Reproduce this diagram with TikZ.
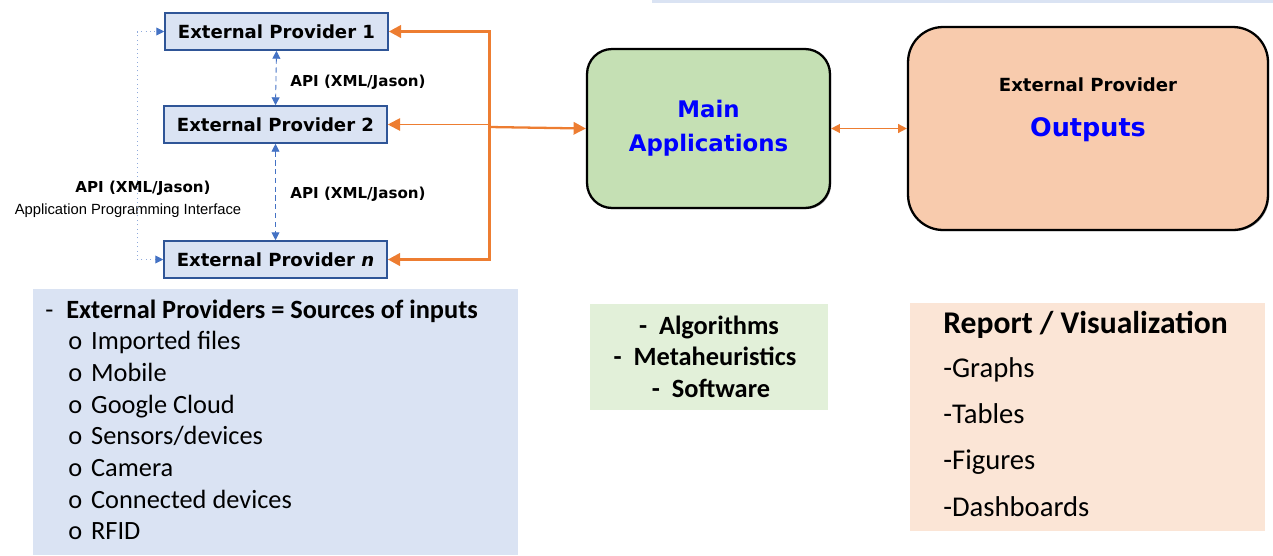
\documentclass[tikz,border=0pt]{standalone}
\usepackage{fontspec}
\setmainfont{Carlito}
\newfontfamily\dvs{DejaVu Sans}
\newfontfamily\lib{Liberation Sans}
\usetikzlibrary{arrows.meta,shadows}
\definecolor{provfill}{HTML}{DAE3F3}
\definecolor{provdraw}{HTML}{2F5597}
\definecolor{apiblue}{HTML}{4472C4}
\definecolor{apilight}{HTML}{8FAADC}
\definecolor{feedorange}{HTML}{ED7D31}
\definecolor{mainfill}{HTML}{C5E0B4}
\definecolor{outfill}{HTML}{F8CBAD}
\definecolor{algofill}{HTML}{E2F0D9}
\definecolor{reportfill}{HTML}{FBE5D6}

\begin{document}
\begin{tikzpicture}[x=0.02cm, y=-0.02cm,
    provider/.style={draw=provdraw, fill=provfill, line width=0.9pt, minimum width=4.46cm,
        minimum height=0.74cm, inner sep=0pt, font=\dvs\bfseries\fontsize{10.3}{12}\selectfont},
    apiarrow/.style={apiblue, densely dashed, line width=0.5pt,
        {Triangle[length=4.5pt,width=4.5pt,color=apiblue]}-{Triangle[length=4.5pt,width=4.5pt,color=apiblue]}},
    apilabel/.style={inner sep=0pt, font=\dvs\bfseries\fontsize{8.6}{10}\selectfont},
    feed/.style={feedorange, line width=1.7pt, -{Triangle[length=7pt,width=7pt]}},
    bigbox/.style={draw=black, line width=1.3pt,
        drop shadow={shadow xshift=0.7pt, shadow yshift=-0.7pt, fill=black!70}},
    panel/.style={inner sep=0pt, anchor=north west},
    listtext/.style={inner sep=0pt, anchor=base west, font=\fontsize{15}{17}\selectfont},
    ]
    \useasboundingbox (0,0) rectangle (1273,555);
    \fill[provfill] (652,0) rectangle (1273,3);

    \node[provider] (ep1) at (276.5,31.5) {External Provider 1};
    \node[provider] (ep2) at (275.5,124.5) {External Provider 2};
    \node[provider] (epn) at (275.5,259.5) {External Provider \textit{n}};

    \node[apilabel, anchor=west] (api1) at (290,82) {API (XML/Jason)};
    \node[apilabel, anchor=west] (api2) at (290,194) {API (XML/Jason)};
    \node[apilabel] (apiname) at (143,188) {API (XML/Jason)};
    \node[inner sep=0pt, font=\lib\fontsize{8.4}{10}\selectfont] (apifull) at (128,211) {Application Programming Interface};

    \draw[apiarrow] (ep1.south) -- (ep2.north);
    \draw[apiarrow] (ep2.south) -- (epn.north);
    \draw[apiarrow, apilight, dotted] (epn.west) -- ++(-26,0) |- (ep1.west);

    \node[bigbox, fill=mainfill, rounded corners=0.5cm, minimum width=4.86cm,
        minimum height=3.18cm, align=center, text=blue, font=\dvs\bfseries\fontsize{13}{19.3}\selectfont]
        (main) at (708.5,128.5) {Main\\Applications};
    \node[bigbox, fill=outfill, rounded corners=0.7cm, minimum width=7.2cm,
        minimum height=4.06cm] (out) at (1088,128.5) {};
    \node[inner sep=0pt, font=\dvs\bfseries\fontsize{10.3}{12}\selectfont] (outtitle) at (1088,85) {External Provider};
    \node[inner sep=0pt, text=blue, font=\dvs\bfseries\fontsize{14.5}{17}\selectfont] (outname) at (1088,130) {Outputs};

    \coordinate (bus) at (489,127);
    \draw[feed] (bus) |- (ep1.east);
    \draw[feed] (bus) |- (epn.east);
    \draw[feed, line width=1.1pt] (bus |- ep2.east) -- (ep2.east);
    \draw[feed, line width=1.3pt] (bus) -- (main.west);
    \draw[feedorange, line width=0.9pt, {Triangle[length=5pt,width=5pt]}-{Triangle[length=5pt,width=5pt]}]
        (main.east) -- (out.west);

    \node[panel, fill=provfill, minimum width=9.7cm, minimum height=5.32cm] (inputs) at (33,289) {};
    \node[listtext] (inhead) at (45,318) {\makebox[11.9pt][l]{-}\textbf{External Providers = Sources of inputs}};
    \foreach \t [count=\i] in {Imported files, Mobile, Google Cloud, Sensors/devices, Camera, Connected devices, RFID}
        \node[listtext] (in\i) at (68,318+31.7*\i) {\makebox[13pt][l]{o}\t};

    \node[panel, fill=algofill, minimum width=4.76cm, minimum height=2.12cm] (algo) at (590,304) {};
    \node[inner sep=0pt, anchor=base, font=\bfseries\fontsize{15}{17}\selectfont] (alg1) at (709,334) {-\ \ Algorithms};
    \node[inner sep=0pt, anchor=base, font=\bfseries\fontsize{15}{17}\selectfont] (alg2) at (705,365) {-\ \ Metaheuristics};
    \node[inner sep=0pt, anchor=base, font=\bfseries\fontsize{15}{17}\selectfont] (alg3) at (711,397) {-\ \ Software};

    \node[panel, fill=reportfill, minimum width=7.1cm, minimum height=4.56cm] (report) at (910,303) {};
    \node[inner sep=0pt, anchor=base west, font=\bfseries\fontsize{18}{20}\selectfont] (rephead) at (943,333) {Report / Visualization};
    \foreach \t [count=\i] in {Graphs, Tables, Figures, Dashboards}
        \node[inner sep=0pt, anchor=base west, font=\fontsize{16.3}{19}\selectfont] (rep\i) at (943,331+46.3*\i) {-\t};
\end{tikzpicture}
\end{document}
